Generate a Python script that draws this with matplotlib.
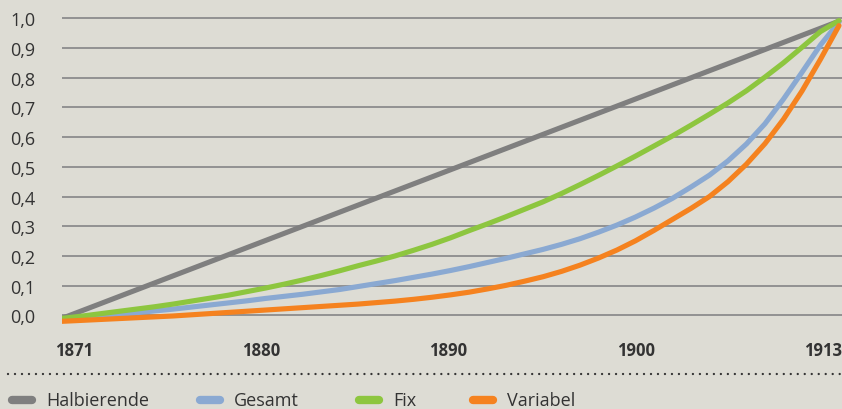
import matplotlib.pyplot as plt
from matplotlib.lines import Line2D
import numpy as np

# ===== 1. Data =====
years = list(range(1871, 1914))

halbierende_years = [1871, 1913]
halbierende = [-0.010, 0.990]

gesamt = [-0.015, -0.009, -0.003, 0.003, 0.009, 0.015, 0.021, 0.028, 0.035, 0.042,
          0.049, 0.057, 0.064, 0.071, 0.079, 0.087, 0.097, 0.107, 0.117, 0.128,
          0.139, 0.151, 0.164, 0.178, 0.192, 0.207, 0.222, 0.239, 0.258, 0.280,
          0.304, 0.331, 0.361, 0.394, 0.432, 0.472, 0.520, 0.577, 0.645, 0.728,
          0.818, 0.910, 0.987]
fix = [-0.010, -0.003, 0.005, 0.013, 0.021, 0.029, 0.038, 0.048, 0.058, 0.068,
       0.080, 0.092, 0.105, 0.119, 0.134, 0.150, 0.167, 0.183, 0.200, 0.219,
       0.239, 0.261, 0.285, 0.308, 0.332, 0.357, 0.382, 0.410, 0.440, 0.471,
       0.503, 0.536, 0.570, 0.604, 0.640, 0.677, 0.715, 0.756, 0.802, 0.850,
       0.902, 0.955, 0.992]
variabel = [-0.020, -0.017, -0.014, -0.011, -0.008, -0.005, -0.002, 0.002, 0.006, 0.010,
            0.014, 0.018, 0.022, 0.026, 0.030, 0.034, 0.038, 0.043, 0.048, 0.054,
            0.061, 0.069, 0.078, 0.089, 0.101, 0.115, 0.130, 0.148, 0.169, 0.193,
            0.220, 0.251, 0.286, 0.323, 0.360, 0.400, 0.450, 0.509, 0.578, 0.660,
            0.755, 0.862, 0.975]

series_names = ["Halbierende", "Gesamt", "Fix", "Variabel"]
series_colors = ["#7f7f7f", "#8aa9d2", "#8dc63f", "#f5821f"]
x_labels = ["1871", "1880", "1890", "1900", "1913"]
y_ticks = [0.0, 0.1, 0.2, 0.3, 0.4, 0.5, 0.6, 0.7, 0.8, 0.9, 1.0]

bg = "#dddcd4"
txt = "#333333"
plt.rcParams["font.family"] = ["Open Sans", "DejaVu Sans"]

# ===== 2. Figure =====
W, H = 842, 410
fig = plt.figure(figsize=(W / 100, H / 100), dpi=100, facecolor=bg)
ax = fig.add_axes([62 / W, (H - 325) / H, (842 - 62) / W, 315 / H], facecolor=bg)

xs = [halbierende_years, years, years, years]
for x, vals, col in zip(xs, [halbierende, gesamt, fix, variabel], series_colors):
    ax.plot(x, vals, color=col, lw=3.7, solid_capstyle="round",
            solid_joinstyle="round", zorder=3)

px_per_year = 777 / 42
ax.set_xlim(1871, 1871 + 780 / px_per_year)
ax.set_ylim(-0.029, 1.031)

# ===== 3. Axes / grid =====
ax.set_yticks(y_ticks)
ax.set_yticklabels([f"{v:.1f}".replace(".", ",") for v in y_ticks],
                   fontsize=13, color=txt)
ax.yaxis.grid(True, color="#8c8c8c", lw=1.3)
ax.set_axisbelow(True)
ax.tick_params(axis="y", length=0, pad=19)

# x labels: evenly spaced like in the original
x_pos = 1871 + (np.linspace(74, 823, len(x_labels)) - 62) / px_per_year
ax.set_xticks(x_pos)
ax.set_xticklabels(x_labels, fontsize=12, fontweight="bold", color=txt)
ax.tick_params(axis="x", length=0, pad=12)

for s in ax.spines.values():
    s.set_visible(False)

# ===== 4. Dotted separator + legend =====
fig.add_artist(Line2D([8 / W, 842 / W], [(H - 375) / H] * 2, transform=fig.transFigure,
                      color=txt, lw=1.7, linestyle=(0, (0.01, 2.95)),
                      dash_capstyle="round"))

leg_x = [8, 196, 355, 469]
leg_y = (H - 401) / H
for x0, name, col in zip(leg_x, series_names, series_colors):
    fig.add_artist(Line2D([(x0 + 4) / W, (x0 + 24) / W], [leg_y, leg_y],
                          transform=fig.transFigure, color=col, lw=6,
                          solid_capstyle="round"))
    fig.text((x0 + 38) / W, leg_y, name, fontsize=13, color=txt,
             ha="left", va="center")

plt.savefig("out.png", dpi=100, facecolor=bg)
